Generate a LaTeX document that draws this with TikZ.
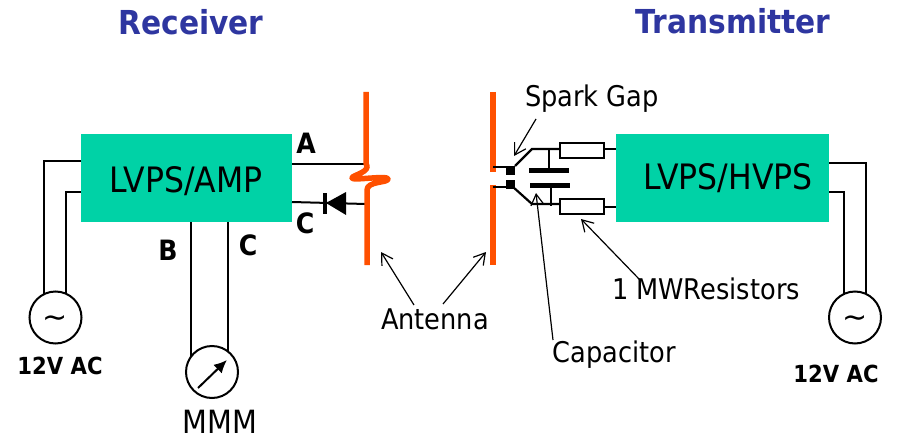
\documentclass[tikz,border=0pt]{standalone}
\usepackage{fontspec}
\setmainfont{DejaVu Sans}
\newfontfamily\bodyf[FakeStretch=0.9]{DejaVu Sans}
\usetikzlibrary{arrows.meta}
\definecolor{boxteal}{HTML}{00D2A6}
\definecolor{antorange}{HTML}{FF5000}
\definecolor{titleblue}{HTML}{2E36A0}
\tikzset{
 wire/.style={line width=2pt,black},
 antenna/.style={line width=5.5pt,antorange},
 tealbox/.style={fill=boxteal,inner sep=0pt,outer sep=0pt},
 source/.style={circle,draw,line width=2pt,minimum size=52pt,inner sep=0pt,outer sep=0pt},
 resistor/.style={draw,fill=white,line width=2pt,minimum width=44pt,minimum height=15pt,inner sep=0pt,outer sep=0pt},
 blackblock/.style={fill=black,inner sep=0pt,outer sep=0pt},
 callout/.style={line width=1.2pt,-{Straight Barb[length=11pt,width=13pt]}},
 title/.style={font=\bodyf\fontsize{33}{35}\selectfont\bfseries,text=titleblue,inner sep=0pt},
 lab/.style={font=\bodyf\fontsize{28.5}{30}\selectfont,inner sep=0pt},
 mlab/.style={font=\bodyf\fontsize{32}{34}\selectfont,inner sep=0pt},
 boxlab/.style={font=\bodyf\fontsize{35}{37}\selectfont,inner sep=0pt},
 letter/.style={font=\bodyf\fontsize{28}{30}\selectfont\bfseries,inner sep=0pt},
 aclab/.style={font=\bodyf\fontsize{23.5}{25}\selectfont\bfseries,inner sep=0pt},
 tildemark/.style={font=\fontsize{30}{30}\selectfont},
}
\begin{document}
\begin{tikzpicture}[x=1pt,y=-1pt]
\useasboundingbox (0,0) rectangle (901,441);
% titles
\node[title] (t1) at (191,22) {Receiver};
\node[title] (t2) at (733,21) {Transmitter};
% boxes
\node[tealbox,minimum width=211pt,minimum height=88pt] (lbox) at (186.5,178) {};
\node[tealbox,minimum width=213pt,minimum height=88pt] (rbox) at (722.5,178) {};
\node[boxlab] (lboxt) at (186,181) {LVPS/AMP};
\node[boxlab] (rboxt) at (728,178) {LVPS/HVPS};
% sources
\node[source,tildemark] (acl) at (55.5,317.5) {\raisebox{-10pt}[0pt][0pt]{∼}};
\node[source,tildemark] (acr) at (855,317.5) {\raisebox{-10pt}[0pt][0pt]{∼}};
\node[source] (meter) at (212,372) {};
\draw[wire] (lbox.west |- 0,161) -| (acl.116);
\draw[wire] (lbox.west |- 0,192) -| (acl.66);
\draw[wire] (rbox.east |- 0,163) -| (acr.64);
\draw[wire] (rbox.east |- 0,192) -| (acr.114);
\draw[wire] (meter.144 |- lbox.south) -- (meter.144);
\draw[wire] (meter.52 |- lbox.south) -- (meter.52);
\draw[line width=2pt,-{Latex[length=13pt,width=12pt]}] (meter.center)+(-14,16) coordinate (m1) -- (227,360);
% left antenna
\coordinate (al1) at (366,92);
\coordinate (al2) at (367,265);
\coordinate (al3) at (366,163.5);
\coordinate (al4) at (366,204);
\draw[wire] (lbox.east |- al3) -- (al3);
\draw[wire] (lbox.east |- 0,202) -- (al4);
\draw[antenna,line join=round] (al1) -- (al3) .. controls (372,172) and (352,175) .. (352,178) .. controls (352,181) and (388,175) .. (388,179) .. controls (388,183) and (367,181) .. (367,190) -- (al2);
% diode
\fill (326,203) -- (346,192) -- (346,215) -- cycle;
\draw[line width=3.5pt] (325,193) -- (325,214);
% right antenna
\coordinate (ar1) at (493,92);
\coordinate (ar2) at (493,172);
\coordinate (ar3) at (493,185);
\coordinate (ar4) at (493,265);
\draw[antenna] (ar1) -- (ar2);
\draw[antenna] (ar3) -- (ar4);
% spark gap
\node[blackblock,minimum width=9pt,minimum height=9pt] (sg1) at (510.5,170.5) {};
\node[blackblock,minimum width=9pt,minimum height=9pt] (sg2) at (510.5,184.5) {};
\draw[wire] (ar1 |- 0,167) -- (sg1.north west |- 0,167);
\draw[wire] (ar1 |- 0,187) -- (sg2.west |- 0,187);
% resistors
\node[resistor] (r1) at (582,150.5) {};
\node[resistor] (r2) at (582,206) {};
\draw[wire] (r1.east |- 0,148.5) -- (rbox.west |- 0,148.5);
\draw[wire] (r2.east |- 0,207) -- (rbox.west |- 0,207);
\draw[line width=2.2pt] (sg1.north east) -- (532,149) -- (r1.west |- 0,149);
\draw[line width=2.2pt] (sg2.south east) ++(-2,-2) -- (532,204) -- (r2.west |- 0,204);
% capacitor
\node[blackblock,minimum width=40pt,minimum height=5pt] (c1) at (549,170.5) {};
\node[blackblock,minimum width=40pt,minimum height=5pt] (c2) at (550,185) {};
\draw[line width=2.2pt] (549,149) -- (c1.north);
\draw[line width=2.2pt] (c2.south) ++(1,0) -- (551,206);
% labels
\node[letter] (la) at (306,143) {A};
\node[letter] (lc1) at (305,223) {C};
\node[letter] (lb) at (168,250) {B};
\node[letter] (lc2) at (248,245) {C};
\node[mlab] (mmm) at (220,422) {MMM};
\node[aclab] (ac1) at (60,366) {12V AC};
\node[aclab] (ac2) at (836,374) {12V AC};
\node[lab] (spark) at (592,99) {Spark Gap};
\node[lab] (res) at (706,289) {1 MWResistors};
\node[lab] (ant) at (435,319) {Antenna};
\node[lab] (cap) at (614,355) {Capacitor};
% callouts
\coordinate (tipsg) at (514,156);
\coordinate (tipc) at (536,193);
\coordinate (tipr) at (581,219);
\coordinate (tipa1) at (381,252);
\coordinate (tipa2) at (486,252);
\draw[callout] (536,119) -- (tipsg);
\draw[callout] (553,340) -- (tipc);
\draw[callout] (640,280) -- (tipr);
\draw[callout] (414,305) -- (tipa1);
\draw[callout] (443,304) -- (tipa2);
\end{tikzpicture}
\end{document}
